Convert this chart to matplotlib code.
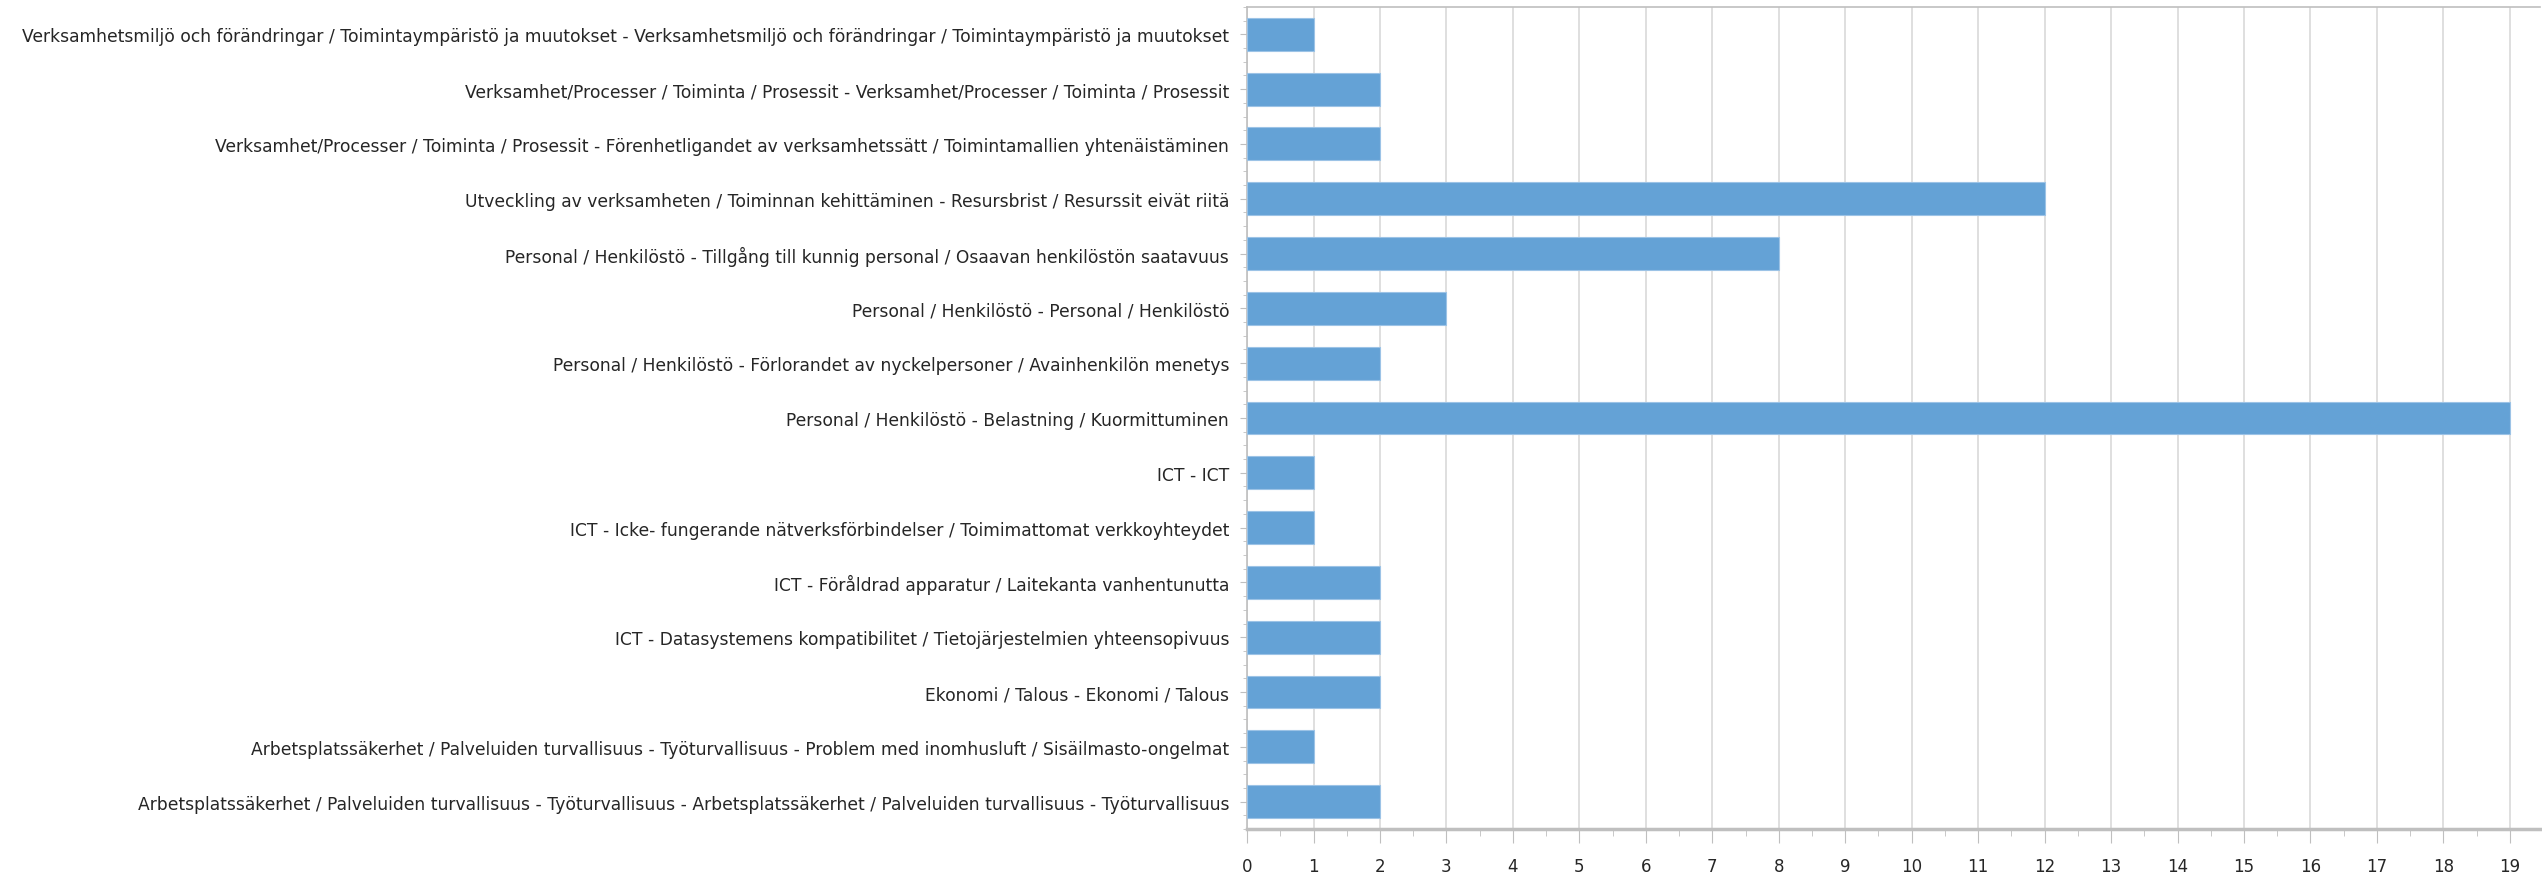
import matplotlib.pyplot as plt
from matplotlib.ticker import MultipleLocator

# categories top -> bottom, as in the reference
categories = [
    "Verksamhetsmiljö och förändringar / Toimintaympäristö ja muutokset - Verksamhetsmiljö och förändringar / Toimintaympäristö ja muutokset",
    "Verksamhet/Processer / Toiminta / Prosessit - Verksamhet/Processer / Toiminta / Prosessit",
    "Verksamhet/Processer / Toiminta / Prosessit - Förenhetligandet av verksamhetssätt / Toimintamallien yhtenäistäminen",
    "Utveckling av verksamheten / Toiminnan kehittäminen - Resursbrist / Resurssit eivät riitä",
    "Personal / Henkilöstö - Tillgång till kunnig personal / Osaavan henkilöstön saatavuus",
    "Personal / Henkilöstö - Personal / Henkilöstö",
    "Personal / Henkilöstö - Förlorandet av nyckelpersoner / Avainhenkilön menetys",
    "Personal / Henkilöstö - Belastning / Kuormittuminen",
    "ICT - ICT",
    "ICT - Icke- fungerande nätverksförbindelser / Toimimattomat verkkoyhteydet",
    "ICT - Föråldrad apparatur / Laitekanta vanhentunutta",
    "ICT - Datasystemens kompatibilitet / Tietojärjestelmien yhteensopivuus",
    "Ekonomi / Talous - Ekonomi / Talous",
    "Arbetsplatssäkerhet / Palveluiden turvallisuus - Työturvallisuus - Problem med inomhusluft / Sisäilmasto-ongelmat",
    "Arbetsplatssäkerhet / Palveluiden turvallisuus - Työturvallisuus - Arbetsplatssäkerhet / Palveluiden turvallisuus - Työturvallisuus",
]
counts = [1, 2, 2, 12, 8, 3, 2, 19, 1, 1, 2, 2, 2, 1, 2]
x_ticks = list(range(0, 20))

barBlue = "#64a2d6"
gridGray = "#d9d9d9"
axisGray = "#bfbfbf"
textCol = "#262626"

plt.rcParams["font.family"] = ["DejaVu Sans"]

fig = plt.figure(figsize=(25.42, 8.79), dpi=100)
ax = fig.add_axes([0.4906, 0.0557, 0.5085, 0.9353])

ypos = list(range(len(categories)))
ax.barh(ypos, counts, height=0.6, color=barBlue, edgecolor="#9cc3e6", linewidth=0.8, zorder=3)

ax.set_ylim(len(categories) - 0.5, -0.5)
ax.set_xlim(0, 19.45)
ax.set_yticks(ypos)
ax.set_yticklabels(categories, fontsize=12.3, color=textCol)
ax.set_xticks(x_ticks)
ax.set_xticklabels([str(v) for v in x_ticks], fontsize=12, color=textCol)
ax.xaxis.set_minor_locator(MultipleLocator(0.5))
ax.yaxis.set_minor_locator(MultipleLocator(0.25))

ax.grid(axis="x", color=gridGray, lw=1.2, zorder=0)
ax.tick_params(axis="y", which="major", length=5, color=axisGray, pad=8)
ax.tick_params(axis="y", which="minor", length=3, color=axisGray)
ax.tick_params(axis="x", which="major", length=10, color=axisGray, pad=10)
ax.tick_params(axis="x", which="minor", length=5, color=axisGray)

for side in ["top", "left", "bottom"]:
    ax.spines[side].set_color(axisGray)
    ax.spines[side].set_linewidth(1.2)
ax.spines["bottom"].set_linewidth(2.5)
ax.spines["right"].set_visible(False)

fig.savefig("out.png", dpi=100)
